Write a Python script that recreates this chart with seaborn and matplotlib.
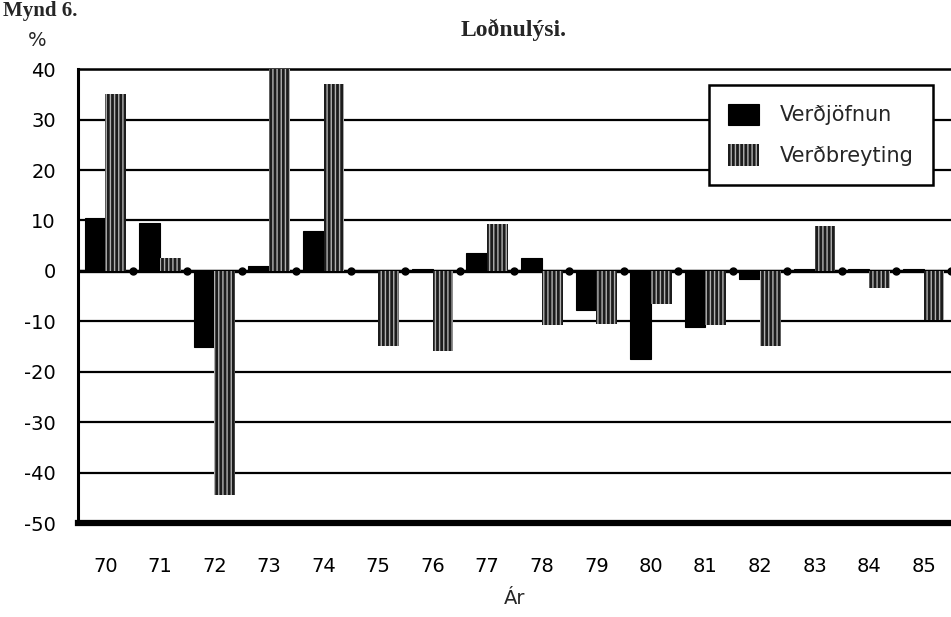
import numpy as np
import pandas as pd
import matplotlib
matplotlib.use('Agg')
import matplotlib.pyplot as plt
import seaborn as sns

# --- Data ---
years = ['70', '71', '72', '73', '74', '75', '76', '77',
         '78', '79', '80', '81', '82', '83', '84', '85']
verdjofnun = [10.5, 9.5, -15.0, 1.0, 8.0, -0.3, 0.3, 3.5,
              2.6, -7.8, -17.4, -11.2, -1.5, 0.3, 0.4, 0.4]
verdbreyting = [35.0, 2.6, -44.5, 40.0, 37.0, -14.8, -15.8, 9.4,
                -10.8, -10.5, -6.6, -10.8, -14.8, 9.0, -3.3, -9.8]
series_names = ['Verðjöfnun', 'Verðbreyting']
yticks = list(range(-50, 41, 10))

df = pd.DataFrame({
    'ar': years * 2,
    'gildi': verdjofnun + verdbreyting,
    'rod': [series_names[0]] * len(years) + [series_names[1]] * len(years),
})

# --- Plot ---
sns.set_style('white')
plt.rcParams['font.family'] = ['DejaVu Sans']
plt.rcParams['hatch.linewidth'] = 1.0

fig = plt.figure(figsize=(9.51, 6.17), dpi=100)
ax = fig.add_axes([0.082, 0.152, 0.918, 0.736])

sns.barplot(data=df, x='ar', y='gildi', hue='rod', hue_order=series_names,
            palette=['#000000', '#1c1c1c'], width=0.76, gap=0,
            saturation=1, legend=False, ax=ax, zorder=3)

for p in ax.containers[0]:
    p.set_edgecolor('black')
    p.set_linewidth(0.8)
for p in ax.containers[1]:
    p.set_hatch('||||')
    p.set_edgecolor('#b0b0b0')
    p.set_linewidth(0)

ax.set_xlim(-0.5, len(years) - 0.5)
ax.set_ylim(-50, 40)
ax.set_yticks(yticks)
ax.set_yticklabels([str(t) for t in yticks])

ax.set_axisbelow(True)
ax.yaxis.grid(True, color='black', linewidth=1.6)
ax.axhline(0, color='black', linewidth=2.4, zorder=2)
# small dots on the zero line between year groups
ax.plot(np.arange(len(years)) + 0.5, [0] * len(years), 'o', color='black',
        markersize=5, zorder=4)

for side in ['left', 'top', 'bottom', 'right']:
    ax.spines[side].set_color('black')
ax.spines['left'].set_linewidth(2.2)
ax.spines['top'].set_linewidth(1.8)
ax.spines['bottom'].set_linewidth(4.5)
ax.spines['right'].set_visible(False)

ax.tick_params(axis='y', direction='inout', length=4, width=3, pad=14,
               labelsize=14, colors='black')
ax.tick_params(axis='x', length=0, pad=24, labelsize=14, colors='black')
ax.set_xlabel('Ár', fontsize=14, labelpad=10)
ax.set_ylabel('')

leg = ax.legend(handles=[ax.containers[0], ax.containers[1]],
                labels=series_names, loc='upper right',
                bbox_to_anchor=(0.979, 0.965), borderaxespad=0,
                fontsize=15, frameon=True, fancybox=False, framealpha=1,
                edgecolor='black', handlelength=1.5, handleheight=1.2,
                borderpad=0.9, labelspacing=0.9, handletextpad=1.0)
leg.get_frame().set_linewidth(1.8)

fig.text(0.54, 1 - 30 / 617, 'Loðnulýsi.', family='Liberation Serif',
         weight='bold', fontsize=17, ha='center', va='center')
fig.text(0.003, 0.998, 'Mynd 6.', family='Liberation Serif',
         weight='bold', fontsize=15, ha='left', va='top')
fig.text(37 / 951, 1 - 40 / 617, '%', fontsize=14, ha='center', va='center')

fig.savefig('out.png', dpi=100)
plt.close(fig)
